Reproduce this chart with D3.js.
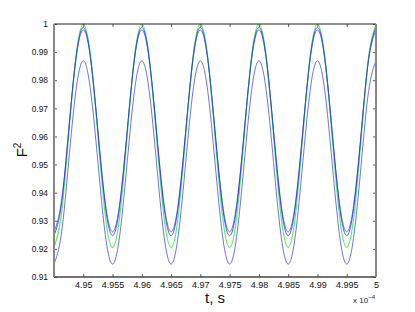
<!DOCTYPE html>
<html><head><meta charset="utf-8">
<script src="https://cdn.jsdelivr.net/npm/d3@7"></script>
<style>
html,body{margin:0;padding:0;background:#fff;}
svg{display:block;font-family:"Liberation Sans",Arial,sans-serif;}
</style></head>
<body>
<svg id="chart" width="415" height="312"></svg>
<script>
// time in units of 1e-4 s
const tVals = [4.945,4.94625,4.9475,4.94875,4.95,4.95125,4.9525,4.95375,4.955,4.95625,4.9575,4.95875,4.96,4.96125,4.9625,4.96375,4.965,4.96625,4.9675,4.96875,4.97,4.97125,4.9725,4.97375,4.975,4.97625,4.9775,4.97875,4.98,4.98125,4.9825,4.98375,4.985,4.98625,4.9875,4.98875,4.99,4.99125,4.9925,4.99375,4.995,4.99625,4.9975,4.99875,5.0];
const greenVals = [0.9205,0.9321,0.9603,0.9884,1.0000,0.9884,0.9603,0.9321,0.9205,0.9321,0.9603,0.9884,1.0000,0.9884,0.9603,0.9321,0.9205,0.9321,0.9603,0.9884,1.0000,0.9884,0.9603,0.9321,0.9205,0.9321,0.9603,0.9884,1.0000,0.9884,0.9603,0.9321,0.9205,0.9321,0.9603,0.9884,1.0000,0.9884,0.9603,0.9321,0.9205,0.9321,0.9603,0.9884,1.0000];
const blue1Vals = [0.9247,0.9356,0.9618,0.9880,0.9988,0.9880,0.9618,0.9356,0.9247,0.9356,0.9618,0.9880,0.9988,0.9880,0.9618,0.9356,0.9247,0.9356,0.9618,0.9880,0.9988,0.9880,0.9618,0.9356,0.9247,0.9356,0.9618,0.9880,0.9988,0.9880,0.9618,0.9356,0.9247,0.9356,0.9618,0.9880,0.9988,0.9880,0.9618,0.9356,0.9247,0.9356,0.9618,0.9880,0.9988];
const blue2Vals = [0.9261,0.9366,0.9620,0.9874,0.9979,0.9874,0.9620,0.9366,0.9261,0.9366,0.9620,0.9874,0.9979,0.9874,0.9620,0.9366,0.9261,0.9366,0.9620,0.9874,0.9979,0.9874,0.9620,0.9366,0.9261,0.9366,0.9620,0.9874,0.9979,0.9874,0.9620,0.9366,0.9261,0.9366,0.9620,0.9874,0.9979,0.9874,0.9620,0.9366,0.9261,0.9366,0.9620,0.9874,0.9979];
const blue3Vals = [0.9146,0.9252,0.9508,0.9763,0.9869,0.9763,0.9508,0.9252,0.9146,0.9252,0.9508,0.9763,0.9869,0.9763,0.9508,0.9252,0.9146,0.9252,0.9508,0.9763,0.9869,0.9763,0.9508,0.9252,0.9146,0.9252,0.9508,0.9763,0.9869,0.9763,0.9508,0.9252,0.9146,0.9252,0.9508,0.9763,0.9869,0.9763,0.9508,0.9252,0.9146,0.9252,0.9508,0.9763,0.9869];
const xTicks = [4.95,4.955,4.96,4.965,4.97,4.975,4.98,4.985,4.99,4.995,5];
const xTickLabels = ["4.95","4.955","4.96","4.965","4.97","4.975","4.98","4.985","4.99","4.995","5"];
const yTicks = [0.91,0.92,0.93,0.94,0.95,0.96,0.97,0.98,0.99,1];
const yTickLabels = ["0.91","0.92","0.93","0.94","0.95","0.96","0.97","0.98","0.99","1"];

const L = 54, R = 376, T = 24, B = 277;
const svg = d3.select("#chart");
const x = d3.scaleLinear().domain([4.945, 5.0]).range([L, R]);
const y = d3.scaleLinear().domain([0.91, 1.0]).range([B, T]);

// axes
const gx = svg.append("g").attr("transform", `translate(0,${B})`)
  .call(d3.axisBottom(x).tickValues(xTicks).tickFormat((d,i)=>xTickLabels[i]).tickSizeInner(-3).tickSizeOuter(0).tickPadding(5));
const gxt = svg.append("g").attr("transform", `translate(0,${T})`)
  .call(d3.axisTop(x).tickValues(xTicks).tickFormat("").tickSizeInner(-3).tickSizeOuter(0));
const gy = svg.append("g").attr("transform", `translate(${L},0)`)
  .call(d3.axisLeft(y).tickValues(yTicks).tickFormat((d,i)=>yTickLabels[i]).tickSizeInner(-3).tickSizeOuter(0).tickPadding(6));
const gyr = svg.append("g").attr("transform", `translate(${R},0)`)
  .call(d3.axisRight(y).tickValues(yTicks).tickFormat("").tickSizeInner(-3).tickSizeOuter(0));
[gx,gxt,gy,gyr].forEach(g=>{
  g.select(".domain").remove();
  g.selectAll(".tick line").attr("stroke","#333").attr("stroke-width",0.8);
  g.selectAll("text").attr("fill","#111").attr("font-family","'Liberation Sans',Arial,sans-serif");
});
gx.selectAll("text").attr("font-size","9px");
gy.selectAll("text").attr("font-size","8.4px");

// curves
const line = d3.line().x((d,i)=>x(tVals[i])).y(d=>y(d)).curve(d3.curveNatural);
const series = [
  {v: blue3Vals, c: "#3333ff", o: 0.7, w: 1},
  {v: blue2Vals, c: "#3333ff", o: 0.7, w: 1},
  {v: greenVals, c: "#11ee11", o: 0.7, w: 1.2},
  {v: blue1Vals, c: "#2222ff", o: 0.75, w: 1}
];
series.forEach(s=>{
  svg.append("path").attr("d", line(s.v)).attr("fill","none")
    .attr("stroke", s.c).attr("stroke-opacity", s.o).attr("stroke-width", s.w);
});

// box
svg.append("line").attr("x1",L).attr("x2",R).attr("y1",T).attr("y2",T).attr("stroke","#222").attr("stroke-width",1);
svg.append("line").attr("x1",L).attr("x2",R).attr("y1",B).attr("y2",B).attr("stroke","#444").attr("stroke-width",1.5);
svg.append("line").attr("x1",L).attr("x2",L).attr("y1",T).attr("y2",B).attr("stroke","#888").attr("stroke-width",2);
svg.append("line").attr("x1",R).attr("x2",R).attr("y1",T).attr("y2",B).attr("stroke","#888").attr("stroke-width",2);

// labels
svg.append("text").attr("x", (L+R)/2).attr("y", 303).attr("text-anchor","middle")
  .attr("font-size","15px").attr("fill","#111").text("t, s");
const yl = svg.append("text").attr("transform","translate(27,150) rotate(-90)")
  .attr("text-anchor","middle").attr("font-size","15px").attr("fill","#111");
yl.append("tspan").text("F");
yl.append("tspan").attr("dy","-6").attr("font-size","10px").text("2");
const ex = svg.append("text").attr("x", 375).attr("y", 303).attr("text-anchor","end")
  .attr("font-size","8px").attr("fill","#222");
ex.append("tspan").text("x 10");
ex.append("tspan").attr("dy","-4").attr("font-size","6px").text("−4");
</script>
</body></html>
